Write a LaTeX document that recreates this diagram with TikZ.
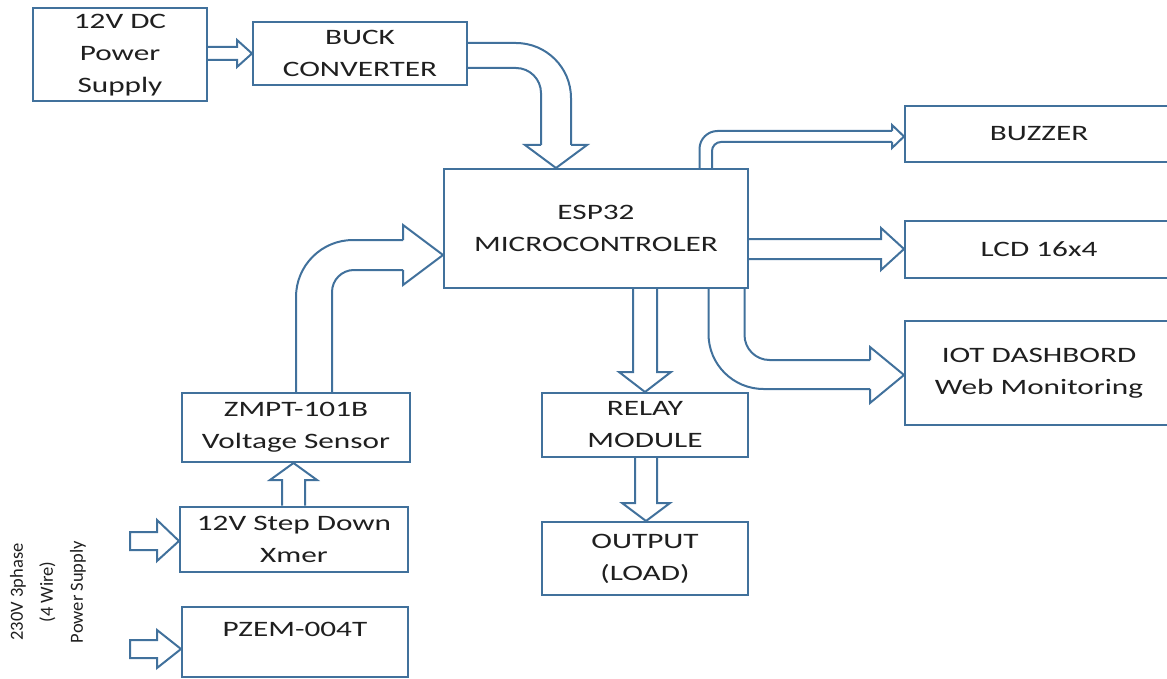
\documentclass[tikz,border=0pt]{standalone}
\usepackage{fontspec}
\setmainfont{Carlito}[FakeStretch=1.42]
\newfontfamily\plainfont{Carlito}
\definecolor{lineblue}{HTML}{41719C}
\definecolor{txt}{HTML}{1F1F1F}
\tikzset{
  box/.style={draw=lineblue, line width=2pt, rectangle, align=center, inner sep=0pt,
    text=txt, font=\fontsize{22}{32}\selectfont},
  harrow/.style={draw=lineblue, line width=2pt, line join=miter},
  lbl/.style={text=txt, align=center, inner sep=0pt, font=\fontsize{22}{32}\selectfont}
}
\begin{document}
\begin{tikzpicture}[x=1pt, y=-1pt]
\useasboundingbox (0,0) rectangle (1167,679);
\clip (0,0) rectangle (1167,679);

% boxes
\node[box, minimum width=174pt, minimum height=93pt] (dc) at (120,55) {12V DC\\Power\\Supply};
\node[box, minimum width=214pt, minimum height=63pt] (buck) at (360,53.5) {BUCK\\CONVERTER};
\node[box, minimum width=304pt, minimum height=119pt] (esp) at (596,228.5) {ESP32\\MICROCONTROLER};
\node[box, minimum width=268pt, minimum height=56pt] (buzzer) at (1039,134) {BUZZER};
\node[box, minimum width=268pt, minimum height=56pt] (lcd) at (1039,249.5) {LCD 16x4};
\node[box, minimum width=268pt, minimum height=104pt] (iot) at (1039,373) {IOT DASHBORD\\Web Monitoring};
\node[box, minimum width=206pt, minimum height=64pt] (relay) at (645,425) {RELAY\\MODULE};
\node[box, minimum width=206pt, minimum height=73pt] (output) at (645,558.5) {OUTPUT\\(LOAD)};
\node[box, minimum width=228pt, minimum height=69pt] (zmpt) at (296,427.5) {ZMPT-101B\\Voltage Sensor};
\node[box, minimum width=228pt, minimum height=65pt] (xmer) at (294,539) {12V Step Down\\Xmer};
\node[box, minimum width=226pt, minimum height=70pt] (pzem) at (295,642) {};
\node[lbl] (pzemlabel) at (295,629) {PZEM-004T};

% supply label
\node[text=txt, align=center, inner sep=0pt, rotate=90,
  font=\plainfont\fontsize{18.5}{30}\selectfont] (supply) at (48,592) {230V 3phase\\(4 Wire)\\Power Supply};

% dc -> buck
\draw[harrow] (dc.east |- 0,47) -- (237,47) -- (237,40) -- (buck.west |- 0,53.5) -- (237,67) -- (237,60) -- (dc.east |- 0,60);

% buck -> esp
\draw[harrow, rounded corners=55pt] (buck.east |- 0,43) -- (571,43) -- (571,145);
\draw[harrow, rounded corners=25pt] (buck.east |- 0,68) -- (541,68) -- (541,145);
\draw[harrow] (571,145) -- (587,145) -- (esp.north -| 556,0) -- (525,145) -- (541,145);

% zmpt -> esp
\draw[harrow, rounded corners=57pt] (zmpt.north -| 296,0) -- (296,240) -- (403,240);
\draw[harrow, rounded corners=22pt] (zmpt.north -| 332,0) -- (332,270) -- (403,270);
\draw[harrow] (403,240) -- (403,225) -- (esp.west |- 0,255) -- (403,285) -- (403,270);

% xmer -> zmpt
\draw[harrow] (xmer.north -| 282,0) -- (282,480) -- (270,480) -- (zmpt.south -| 293.5,0) -- (317,480) -- (305,480) -- (xmer.north -| 305,0);

% supply inputs
\draw[harrow] (130,532) -- (157,532) -- (157,520) -- (xmer.west |- 0,541) -- (157,561) -- (157,550) -- (130,550) -- cycle;
\draw[harrow] (130,640) -- (157,640) -- (157,630) -- (pzem.west |- 0,649) -- (157,668) -- (157,658) -- (130,658) -- cycle;

% esp -> relay
\draw[harrow] (esp.south -| 633,0) -- (633,372) -- (619,372) -- (relay.north -| 645,0) -- (671,372) -- (657,372) -- (esp.south -| 657,0);

% relay -> output
\draw[harrow] (relay.south -| 635,0) -- (635,503) -- (622,503) -- (output.north -| 646,0) -- (670,503) -- (657,503) -- (relay.south -| 657,0);

% esp -> buzzer
\draw[harrow, rounded corners=18pt] (esp.north -| 699.5,0) -- (699.5,131) -- (892,131);
\draw[harrow, rounded corners=9pt] (esp.north -| 712,0) -- (712,142) -- (892,142);
\draw[harrow] (892,131) -- (892,125) -- (buzzer.west |- 0,136.5) -- (892,148) -- (892,142);

% esp -> lcd
\draw[harrow] (esp.east |- 0,239) -- (881,239) -- (881,228) -- (lcd.west |- 0,249) -- (881,270) -- (881,259) -- (esp.east |- 0,259);

% esp -> iot
\draw[harrow, rounded corners=55pt] (esp.south -| 708.5,0) -- (708.5,389) -- (870,389);
\draw[harrow, rounded corners=25pt] (esp.south -| 744.5,0) -- (744.5,360) -- (870,360);
\draw[harrow] (870,360) -- (870,347) -- (iot.west |- 0,375) -- (870,403) -- (870,389);
\end{tikzpicture}
\end{document}
